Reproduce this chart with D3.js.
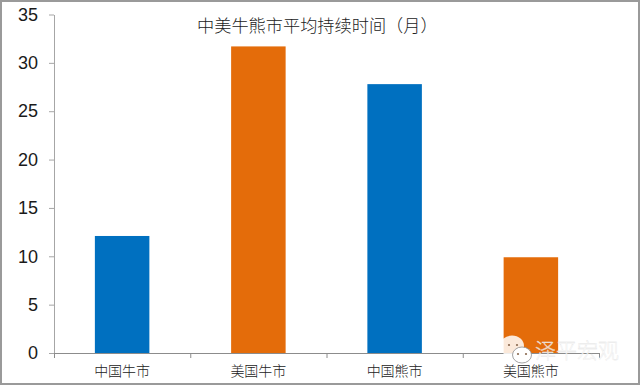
<!DOCTYPE html>
<html>
<head>
<meta charset="utf-8">
<script src="https://cdn.jsdelivr.net/npm/d3@7/dist/d3.min.js"></script>
<style>
html, body { margin: 0; padding: 0; background: #fff; }
svg { display: block; }
</style>
</head>
<body>
<div id="chart-area"></div>
<script>
/* Average duration of bull and bear markets, China vs US */

var categories = ["中国牛市", "美国牛市", "中国熊市", "美国熊市"];
var values = [12.1, 31.7, 27.8, 9.9];
var barColors = ["#0070c0", "#e46c0a", "#0070c0", "#e46c0a"];
var yTicks = [0, 5, 10, 15, 20, 25, 30, 35];
var titleText = "中美牛熊市平均持续时间（月）";
var watermarkText = "泽平宏观";

var svgWidth = 640;
var svgHeight = 385;
var margin = { left: 54, right: 41, top: 14.5, bottom: 32 };
var width = svgWidth - margin.left - margin.right;
var height = svgHeight - margin.top - margin.bottom;

var svg = d3.select("#chart-area")
    .append("svg")
    .attr("width", svgWidth)
    .attr("height", svgHeight);

// photo frame
svg.append("rect")
    .attr("x", 1)
    .attr("y", 1)
    .attr("width", svgWidth - 2)
    .attr("height", svgHeight - 2)
    .attr("fill", "#fff")
    .attr("stroke", "#9a9a9a")
    .attr("stroke-width", 2);

var g = svg.append("g")
    .attr("transform", "translate(" + margin.left + "," + margin.top + ")");

var x = d3.scaleBand()
    .domain(categories)
    .range([0, width])
    .paddingInner(0.6)
    .paddingOuter(0.3);

var y = d3.scaleLinear()
    .domain([0, 35])
    .range([height, 0]);

g.selectAll("rect.bar")
    .data(values)
    .enter()
    .append("rect")
    .attr("class", "bar")
    .attr("x", function(d, i) { return x(categories[i]); })
    .attr("y", function(d) { return y(d); })
    .attr("width", x.bandwidth())
    .attr("height", function(d) { return height - y(d); })
    .attr("fill", function(d, i) { return barColors[i]; });

var yAxisCall = d3.axisLeft(y)
    .tickValues(yTicks)
    .tickSize(5)
    .tickSizeOuter(0)
    .tickPadding(11);

var yAxis = g.append("g")
    .attr("class", "y axis")
    .call(yAxisCall);

yAxis.selectAll("line, path").attr("stroke", "#a6a6a6");
yAxis.selectAll("text")
    .attr("font-family", "'Liberation Sans', Arial, sans-serif")
    .attr("font-size", "18px")
    .attr("fill", "#1a1a1a");

// category boundaries, ticks sit between the bars
var xAxisCall = d3.axisBottom(d3.scaleLinear().domain([0, 4]).range([0, width]))
    .tickValues([0, 1, 2, 3, 4])
    .tickFormat("")
    .tickSize(5)
    .tickSizeOuter(0);

var xAxis = g.append("g")
    .attr("class", "x axis")
    .attr("transform", "translate(0," + height + ")")
    .call(xAxisCall);

xAxis.selectAll("line, path").attr("stroke", "#8c8c8c");

g.selectAll("text.cat")
    .data(categories)
    .enter()
    .append("text")
    .attr("class", "cat")
    .attr("x", function(d) { return x(d) + x.bandwidth() / 2; })
    .attr("y", height + 23)
    .attr("text-anchor", "middle")
    .attr("font-family", "'Noto Sans CJK SC', sans-serif")
    .attr("font-size", "14px")
    .attr("font-weight", 300)
    .attr("fill", "#222")
    .text(function(d) { return d; });

svg.append("text")
    .attr("x", 197)
    .attr("y", 32)
    .attr("text-anchor", "start")
    .attr("font-family", "'Noto Sans CJK SC', sans-serif")
    .attr("font-size", "17.2px")
    .attr("font-weight", 300)
    .attr("fill", "#222")
    .text(titleText);

// watermark
var mark = svg.append("g").attr("class", "watermark");
mark.append("ellipse").attr("cx", 512).attr("cy", 346).attr("rx", 12).attr("ry", 10.5)
    .attr("fill", "#fff").attr("fill-opacity", 0.85);
mark.append("ellipse").attr("cx", 522).attr("cy", 355).attr("rx", 9.5).attr("ry", 8)
    .attr("fill", "#fff").attr("stroke", "#8c8c8c").attr("stroke-width", 0.8);
[[509, 345], [517, 345], [518, 354], [526, 354]].forEach(function(p) {
    mark.append("circle").attr("cx", p[0]).attr("cy", p[1]).attr("r", 1.1).attr("fill", "#8a6a50");
});
mark.append("text")
    .attr("x", 535)
    .attr("y", 358)
    .attr("font-family", "'Noto Sans CJK SC', sans-serif")
    .attr("font-size", "21px")
    .attr("font-weight", 300)
    .attr("fill", "#fff")
    .attr("fill-opacity", 0.75)
    .attr("stroke", "#e2e2e2")
    .attr("stroke-width", 0.3)
    .text(watermarkText);
</script>
</body>
</html>
